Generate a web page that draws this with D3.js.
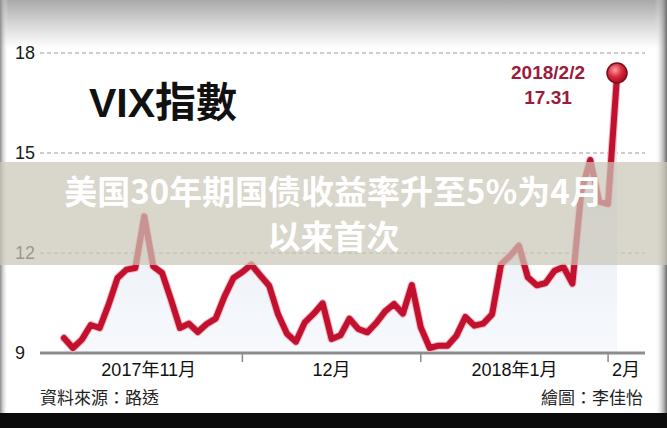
<!DOCTYPE html>
<html><head><meta charset="utf-8">
<script src="https://cdn.jsdelivr.net/npm/d3@7"></script>
<style>html,body{margin:0;padding:0;background:#fff;}svg{display:block;}</style>
</head><body>
<svg id="c" width="667" height="428"></svg>
<script>
// ---- data ----
const dates = ["2017-11-02","2017-11-03","2017-11-06","2017-11-07","2017-11-08","2017-11-09","2017-11-10",
"2017-11-13","2017-11-14","2017-11-15","2017-11-16","2017-11-17","2017-11-20","2017-11-21","2017-11-22","2017-11-24",
"2017-11-27","2017-11-28","2017-11-29","2017-11-30","2017-12-01","2017-12-04","2017-12-05","2017-12-06","2017-12-07",
"2017-12-08","2017-12-11","2017-12-12","2017-12-13","2017-12-14","2017-12-15","2017-12-18","2017-12-19","2017-12-20",
"2017-12-21","2017-12-22","2017-12-26","2017-12-27","2017-12-28","2017-12-29","2018-01-02","2018-01-03","2018-01-04",
"2018-01-05","2018-01-08","2018-01-09","2018-01-10","2018-01-11","2018-01-12","2018-01-16","2018-01-17","2018-01-18",
"2018-01-19","2018-01-22","2018-01-23","2018-01-24","2018-01-25","2018-01-26","2018-01-29","2018-01-30","2018-01-31",
"2018-02-01","2018-02-02"];
const vix = [9.45,9.15,9.40,9.84,9.75,10.45,11.25,11.50,11.55,13.10,11.60,11.40,10.60,9.75,9.88,9.63,
9.87,10.03,10.70,11.25,11.43,11.65,11.33,11.02,10.16,9.58,9.34,9.92,10.18,10.49,9.42,9.53,10.03,9.72,
9.62,9.90,10.25,10.47,10.18,11.04,9.77,9.15,9.22,9.22,9.52,10.08,9.82,9.88,10.16,11.66,11.91,12.22,
11.27,11.03,11.10,11.47,11.58,11.08,13.84,14.79,13.54,13.47,17.31];
const yTicks = [9,12,15,18];
const monthLabels = ["2017年11月","12月","2018年1月","2月"];
const monthStartIdx = [-1,20,40,61,65];   // trading-day index boundaries of months
const tickIdx = [20,40,61];
const title = "VIX指數";
const annoDate = "2018/2/2";
const annoValue = "17.31";
const source = "資料來源：路透";
const credit = "繪圖：李佳怡";
const headline = ["美国30年期国债收益率升至5%为4月","以来首次"];

// ---- chart ----
const svg = d3.select("#c");
const W = 667, H = 428;
const x = d3.scaleLinear().domain([0, dates.length-1]).range([64, 617]);
const y = d3.scaleLinear().domain([9, 18]).range([353, 53]);

const defs = svg.append("defs");
const topG = defs.append("linearGradient").attr("id","topg").attr("x1",0).attr("y1",0).attr("x2",0).attr("y2",1);
topG.append("stop").attr("offset","0%").attr("stop-color","#a9a9a9");
topG.append("stop").attr("offset","45%").attr("stop-color","#d2d2d2");
topG.append("stop").attr("offset","100%").attr("stop-color","#ffffff");
const areaG = defs.append("linearGradient").attr("id","areag").attr("x1",0).attr("y1",0).attr("x2",0).attr("y2",1);
areaG.append("stop").attr("offset","0%").attr("stop-color","#dde7f3");
areaG.append("stop").attr("offset","100%").attr("stop-color","#f7f9fc");
const leftG = defs.append("linearGradient").attr("id","leftg").attr("x1",0).attr("y1",0).attr("x2",1).attr("y2",0);
leftG.append("stop").attr("offset","0%").attr("stop-color","#8a8a8a");
leftG.append("stop").attr("offset","100%").attr("stop-color","#ffffff").attr("stop-opacity",0);
const rightG = defs.append("linearGradient").attr("id","rightg").attr("x1",0).attr("y1",0).attr("x2",1).attr("y2",0);
rightG.append("stop").attr("offset","0%").attr("stop-color","#ffffff").attr("stop-opacity",0);
rightG.append("stop").attr("offset","100%").attr("stop-color","#6a6a6a");
const ballG = defs.append("radialGradient").attr("id","ballg").attr("cx","40%").attr("cy","35%").attr("r","65%");
ballG.append("stop").attr("offset","0%").attr("stop-color","#f7a0a0");
ballG.append("stop").attr("offset","55%").attr("stop-color","#d9283c");
ballG.append("stop").attr("offset","100%").attr("stop-color","#a50e22");

// background
svg.append("rect").attr("width",W).attr("height",H).attr("fill","#fff");
svg.append("rect").attr("x",0).attr("y",0).attr("width",W).attr("height",48).attr("fill","url(#topg)");
svg.append("rect").attr("x",0).attr("y",0).attr("width",8).attr("height",H).attr("fill","url(#leftg)");
svg.append("rect").attr("x",655).attr("y",0).attr("width",12).attr("height",H).attr("fill","url(#rightg)");

// gridlines
svg.append("g").selectAll("line").data(yTicks.filter(d=>d>9)).join("line")
  .attr("x1",40).attr("x2",645).attr("y1",d=>y(d)).attr("y2",d=>y(d))
  .attr("stroke","#9a9a9a").attr("stroke-width",1).attr("stroke-dasharray","4,3");

// area
const area = d3.area().x((d,i)=>x(i)).y0(y(9)).y1(d=>y(d));
svg.append("path").datum(vix).attr("d",area).attr("fill","url(#areag)");

// baseline & ticks
svg.append("line").attr("x1",40).attr("x2",645).attr("y1",y(9)).attr("y2",y(9))
  .attr("stroke","#8c8c8c").attr("stroke-width",3);
svg.append("g").selectAll("line").data(tickIdx).join("line")
  .attr("x1",d=>x(d)).attr("x2",d=>x(d)).attr("y1",y(9)).attr("y2",y(9)+9)
  .attr("stroke","#8c8c8c").attr("stroke-width",1.5);

// y labels
svg.append("g").selectAll("text").data(yTicks).join("text")
  .attr("x",15).attr("y",d=>y(d)+6).text(d=>d)
  .attr("font-family","Liberation Sans, Arial, sans-serif").attr("font-size",18).attr("fill","#1a1a1a");

// x labels
svg.append("g").selectAll("text").data(monthLabels).join("text")
  .attr("x",(d,i)=>(x(monthStartIdx[i])+x(monthStartIdx[i+1]))/2)
  .attr("y",376).attr("text-anchor","middle").text(d=>d)
  .attr("font-family","Liberation Sans, Noto Sans CJK TC, sans-serif").attr("font-size",18).attr("fill","#111");

// line
const line = d3.line().x((d,i)=>x(i)).y(d=>y(d));
svg.append("path").datum(vix).attr("d",line).attr("fill","none")
  .attr("stroke","#f2b7bf").attr("stroke-width",8).attr("stroke-linejoin","round").attr("stroke-linecap","round");
svg.append("path").datum(vix).attr("d",line).attr("fill","none")
  .attr("stroke","#c1112e").attr("stroke-width",6).attr("stroke-linejoin","round").attr("stroke-linecap","round");

// marker
const li = vix.length-1;
svg.append("circle").attr("cx",x(li)).attr("cy",y(vix[li])-3).attr("r",10)
  .attr("fill","url(#ballg)").attr("stroke","#7d0c1b").attr("stroke-width",1.5);

// annotation
svg.append("text").attr("x",548).attr("y",79).attr("text-anchor","middle").text(annoDate)
  .attr("font-family","Liberation Sans, Arial, sans-serif").attr("font-weight","bold").attr("font-size",19).attr("fill","#9c1a3a");
svg.append("text").attr("x",548).attr("y",104).attr("text-anchor","middle").text(annoValue)
  .attr("font-family","Liberation Sans, Arial, sans-serif").attr("font-weight","bold").attr("font-size",19).attr("fill","#9c1a3a");

// title
svg.append("text").attr("x",89).attr("y",117).text(title)
  .attr("font-family","Liberation Sans, Noto Sans CJK TC, sans-serif").attr("font-weight","bold").attr("font-size",41).attr("fill","#111");

// footer
svg.append("text").attr("x",40).attr("y",404).text(source)
  .attr("font-family","Noto Sans CJK TC, sans-serif").attr("font-size",17).attr("fill","#222");
svg.append("text").attr("x",643).attr("y",404).attr("text-anchor","end").text(credit)
  .attr("font-family","Noto Sans CJK TC, sans-serif").attr("font-size",17).attr("fill","#222");

// bottom dark frame
svg.append("rect").attr("x",0).attr("y",413).attr("width",W).attr("height",15).attr("fill","#0b0b0b");

// headline banner
svg.append("rect").attr("x",0).attr("y",162).attr("width",W).attr("height",103)
  .attr("fill","rgb(202,198,184)").attr("fill-opacity",0.72);
svg.append("g").selectAll("text").data(headline).join("text")
  .attr("x",W/2).attr("y",(d,i)=>204+i*45).attr("text-anchor","middle").text(d=>d)
  .attr("font-family","Noto Sans CJK SC, sans-serif").attr("font-weight","bold").attr("font-size",33).attr("fill","#fff");
</script>
</body></html>
